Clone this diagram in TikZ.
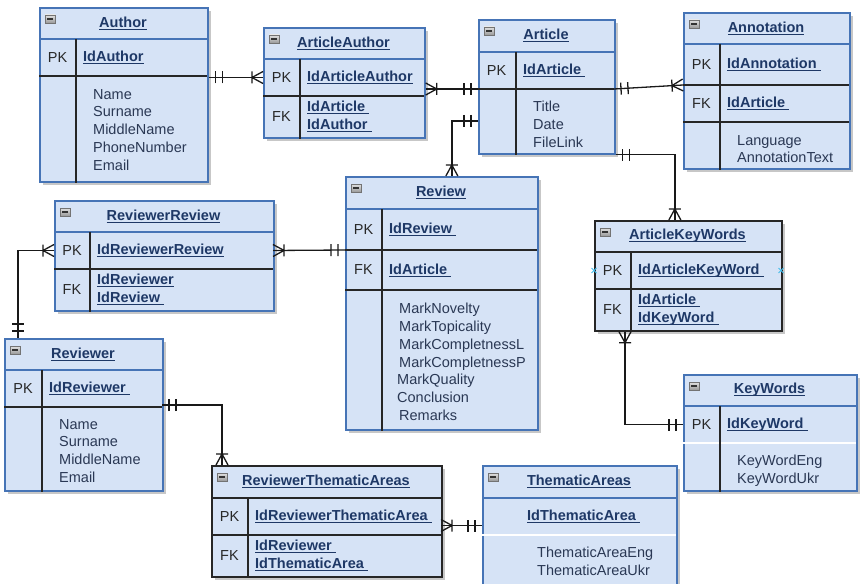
\documentclass[tikz,border=0pt]{standalone}
\usepackage{fontspec}
\setmainfont{Liberation Sans}
\usetikzlibrary{shadows,shapes.misc,decorations.markings}

\definecolor{erfill}{RGB}{214,227,246}
\definecolor{erblue}{RGB}{70,116,182}
\definecolor{erdark}{RGB}{38,38,38}
\definecolor{ernavy}{RGB}{30,56,102}
\definecolor{erattr}{RGB}{42,56,84}
\definecolor{ertext}{RGB}{40,40,40}
\definecolor{erline}{RGB}{25,25,25}
\definecolor{erhandle}{RGB}{70,190,235}

\newcommand{\erfont}{\fontsize{14.5}{17.8}\selectfont}
\newcommand{\ukey}[1]{\setbox0\hbox{#1}\rlap{\rule[-2.3pt]{\wd0}{0.9pt}}\box0}

\begin{document}
\begin{tikzpicture}[x=1pt,y=-1pt,font=\erfont,
    tbl/.style={draw=erblue,fill=erfill,line width=1.7pt,anchor=north west,inner sep=0pt,
                drop shadow={shadow xshift=3pt,shadow yshift=-3pt,fill=black!40,opacity=.55}},
    tbldark/.style={tbl,draw=erdark},
    row/.style={anchor=north west,inner sep=0pt,outer sep=0pt},
    sep/.style={draw=erdark,line width=1.4pt},
    sepblue/.style={draw=erblue,line width=1.4pt},
    sepwhite/.style={draw=white,line width=1.4pt},
    minus/.style={draw=black!55,top color=black!12,bottom color=black!40,minimum width=10pt,
                  minimum height=8pt,inner sep=0pt,line width=.6pt,
                  path picture={\draw[black!80,line width=1.2pt]
                    ([xshift=2.2pt]path picture bounding box.west) --
                    ([xshift=-2.2pt]path picture bounding box.east);}},
    hd/.style={font=\erfont\bfseries,text=ernavy,inner sep=0pt},
    lbl/.style={text=ertext,inner sep=0pt},
    key/.style={font=\erfont\bfseries,text=ernavy,anchor=west,align=left,inner sep=0pt},
    attr/.style={text=erattr,anchor=north west,align=left,inner sep=0pt},
    handle/.style={cross out,draw=erhandle,line width=1pt,minimum size=4pt,inner sep=0pt},
    rel/.style={draw=erline,line width=1.3pt},
    ends/.style={draw=erline,line width=1.3pt,line join=round},
    one at start/.style={postaction={decorate,decoration={markings,mark=at position 0 with
        {\draw[ends] (7pt,-6pt) -- (7pt,6pt) (14pt,-6pt) -- (14pt,6pt);}}}},
    one at end/.style={postaction={decorate,decoration={markings,mark=at position 1 with
        {\draw[ends] (-7pt,-6pt) -- (-7pt,6pt) (-14pt,-6pt) -- (-14pt,6pt);}}}},
    many at start/.style={postaction={decorate,decoration={markings,mark=at position 0 with
        {\draw[ends] (0pt,-6pt) -- (11pt,0pt) -- (0pt,6pt) (11pt,-6pt) -- (11pt,6pt);}}}},
    many at end/.style={postaction={decorate,decoration={markings,mark=at position 1 with
        {\draw[ends] (0pt,-6pt) -- (-11pt,0pt) -- (0pt,6pt) (-11pt,-6pt) -- (-11pt,6pt);}}}}]

  \clip (0,0) rectangle (861,583);

  % Author
  \node[tbl,minimum width=168pt,minimum height=174pt] (author) at (39,7) {};
  \node[row,minimum width=168pt,minimum height=32pt] (author-t) at (author.north west) {};
  \node[row,minimum width=168pt,minimum height=37pt] (author-pk) at (author-t.south west) {};
  \node[row,minimum width=168pt,minimum height=105pt] (author-at) at (author-pk.south west) {};
  \draw[sepblue] (author-t.south west) -- (author-t.south east);
  \draw[sep] (author-pk.south west) -- (author-pk.south east);
  \draw[sep] ([xshift=37pt]author-t.south west) -- ([xshift=37pt]author.south west);
  \node[minus] (author-m) at ([shift={(11pt,-12pt)}]author.north west) {};
  \node[hd] (author-h) at (author-t) {\ukey{Author}};
  \node[lbl] (author-pkl) at ([xshift=18.5pt]author-pk.west) {PK};
  \node[key] (author-pkk) at ([xshift=44pt]author-pk.west) {\ukey{IdAuthor}};
  \node[attr] (author-atl) at ([shift={(54pt,-13pt)}]author-at.north west)
    {Name\\Surname\\MiddleName\\PhoneNumber\\Email};

  % ArticleAuthor
  \node[tbl,minimum width=161pt,minimum height=110pt] (aa) at (263,27) {};
  \node[row,minimum width=161pt,minimum height=32pt] (aa-t) at (aa.north west) {};
  \node[row,minimum width=161pt,minimum height=37pt] (aa-pk) at (aa-t.south west) {};
  \node[row,minimum width=161pt,minimum height=41pt] (aa-fk) at (aa-pk.south west) {};
  \draw[sepblue] (aa-t.south west) -- (aa-t.south east);
  \draw[sep] (aa-pk.south west) -- (aa-pk.south east);
  \draw[sep] ([xshift=37pt]aa-t.south west) -- ([xshift=37pt]aa.south west);
  \node[minus] (aa-m) at ([shift={(11pt,-12pt)}]aa.north west) {};
  \node[hd] (aa-h) at (aa-t) {\ukey{ArticleAuthor}};
  \node[lbl] (aa-pkl) at ([xshift=18.5pt]aa-pk.west) {PK};
  \node[key] (aa-pkk) at ([xshift=44pt]aa-pk.west) {\ukey{IdArticleAuthor}};
  \node[lbl] (aa-fkl) at ([xshift=18.5pt]aa-fk.west) {FK};
  \node[key] (aa-fkk) at ([xshift=44pt]aa-fk.west) {\ukey{IdArticle\ }\\\ukey{IdAuthor\ }};

  % Article
  \node[tbl,minimum width=136pt,minimum height=134pt] (article) at (478,19) {};
  \node[row,minimum width=136pt,minimum height=33pt] (article-t) at (article.north west) {};
  \node[row,minimum width=136pt,minimum height=37pt] (article-pk) at (article-t.south west) {};
  \node[row,minimum width=136pt,minimum height=64pt] (article-at) at (article-pk.south west) {};
  \draw[sepblue] (article-t.south west) -- (article-t.south east);
  \draw[sep] (article-pk.south west) -- (article-pk.south east);
  \draw[sep] ([xshift=38pt]article-t.south west) -- ([xshift=38pt]article.south west);
  \node[minus] (article-m) at ([shift={(11pt,-12pt)}]article.north west) {};
  \node[hd] (article-h) at (article-t) {\ukey{Article}};
  \node[lbl] (article-pkl) at ([xshift=18.5pt]article-pk.west) {PK};
  \node[key] (article-pkk) at ([xshift=45pt]article-pk.west) {\ukey{IdArticle\ }};
  \node[attr] (article-atl) at ([shift={(55pt,-12pt)}]article-at.north west)
    {Title\\Date\\FileLink};

  % Annotation
  \node[tbl,minimum width=166pt,minimum height=156pt] (annot) at (683,12) {};
  \node[row,minimum width=166pt,minimum height=32pt] (annot-t) at (annot.north west) {};
  \node[row,minimum width=166pt,minimum height=41pt] (annot-pk) at (annot-t.south west) {};
  \node[row,minimum width=166pt,minimum height=37pt] (annot-fk) at (annot-pk.south west) {};
  \node[row,minimum width=166pt,minimum height=46pt] (annot-at) at (annot-fk.south west) {};
  \draw[sepblue] (annot-t.south west) -- (annot-t.south east);
  \draw[sep] (annot-pk.south west) -- (annot-pk.south east);
  \draw[sep] (annot-fk.south west) -- (annot-fk.south east);
  \draw[sep] ([xshift=37pt]annot-t.south west) -- ([xshift=37pt]annot.south west);
  \node[minus] (annot-m) at ([shift={(11pt,-12pt)}]annot.north west) {};
  \node[hd] (annot-h) at (annot-t) {\ukey{Annotation}};
  \node[lbl] (annot-pkl) at ([xshift=18.5pt]annot-pk.west) {PK};
  \node[key] (annot-pkk) at ([xshift=44pt]annot-pk.west) {\ukey{IdAnnotation\ }};
  \node[lbl] (annot-fkl) at ([xshift=18.5pt]annot-fk.west) {FK};
  \node[key] (annot-fkk) at ([xshift=44pt]annot-fk.west) {\ukey{IdArticle\ }};
  \node[attr] (annot-atl) at ([shift={(54pt,-13pt)}]annot-at.north west)
    {Language\\AnnotationText};

  % ReviewerReview
  \node[tbl,minimum width=219pt,minimum height=110pt] (rr) at (54,200) {};
  \node[row,minimum width=219pt,minimum height=32pt] (rr-t) at (rr.north west) {};
  \node[row,minimum width=219pt,minimum height=37pt] (rr-pk) at (rr-t.south west) {};
  \node[row,minimum width=219pt,minimum height=41pt] (rr-fk) at (rr-pk.south west) {};
  \draw[sepblue] (rr-t.south west) -- (rr-t.south east);
  \draw[sep] (rr-pk.south west) -- (rr-pk.south east);
  \draw[sep] ([xshift=36pt]rr-t.south west) -- ([xshift=36pt]rr.south west);
  \node[minus] (rr-m) at ([shift={(11pt,-12pt)}]rr.north west) {};
  \node[hd] (rr-h) at (rr-t) {\ukey{ReviewerReview}};
  \node[lbl] (rr-pkl) at ([xshift=18pt]rr-pk.west) {PK};
  \node[key] (rr-pkk) at ([xshift=43pt]rr-pk.west) {\ukey{IdReviewerReview}};
  \node[lbl] (rr-fkl) at ([xshift=18pt]rr-fk.west) {FK};
  \node[key] (rr-fkk) at ([xshift=43pt]rr-fk.west) {\ukey{IdReviewer}\\\ukey{IdReview\ }};

  % Review
  \node[tbl,minimum width=192pt,minimum height=253pt] (review) at (345,176) {};
  \node[row,minimum width=192pt,minimum height=33pt] (review-t) at (review.north west) {};
  \node[row,minimum width=192pt,minimum height=41pt] (review-pk) at (review-t.south west) {};
  \node[row,minimum width=192pt,minimum height=40pt] (review-fk) at (review-pk.south west) {};
  \node[row,minimum width=192pt,minimum height=139pt] (review-at) at (review-fk.south west) {};
  \draw[sepblue] (review-t.south west) -- (review-t.south east);
  \draw[sep] (review-pk.south west) -- (review-pk.south east);
  \draw[sep] (review-fk.south west) -- (review-fk.south east);
  \draw[sep] ([xshift=37pt]review-t.south west) -- ([xshift=37pt]review.south west);
  \node[minus] (review-m) at ([shift={(11pt,-12pt)}]review.north west) {};
  \node[hd] (review-h) at (review-t) {\ukey{Review}};
  \node[lbl] (review-pkl) at ([xshift=18.5pt]review-pk.west) {PK};
  \node[key] (review-pkk) at ([xshift=44pt]review-pk.west) {\ukey{IdReview\ }};
  \node[lbl] (review-fkl) at ([xshift=18.5pt]review-fk.west) {FK};
  \node[key] (review-fkk) at ([xshift=44pt]review-fk.west) {\ukey{IdArticle\ }};
  \node[attr] (review-atl) at ([shift={(54pt,-13pt)}]review-at.north west)
    {MarkNovelty\\MarkTopicality\\MarkCompletnessL\\MarkCompletnessP\\
     \kern-2pt MarkQuality\\\kern-2pt Conclusion\\Remarks};

  % ArticleKeyWords
  \node[tbldark,minimum width=187pt,minimum height=110pt] (akw) at (594,220) {};
  \node[row,minimum width=187pt,minimum height=32pt] (akw-t) at (akw.north west) {};
  \node[row,minimum width=187pt,minimum height=37pt] (akw-pk) at (akw-t.south west) {};
  \node[row,minimum width=187pt,minimum height=41pt] (akw-fk) at (akw-pk.south west) {};
  \draw[sep] (akw-t.south west) -- (akw-t.south east);
  \draw[sep] (akw-pk.south west) -- (akw-pk.south east);
  \draw[sep] ([xshift=37pt]akw-t.south west) -- ([xshift=37pt]akw.south west);
  \node[minus] (akw-m) at ([shift={(11pt,-12pt)}]akw.north west) {};
  \node[hd] (akw-h) at (akw-t) {\ukey{ArticleKeyWords}};
  \node[lbl] (akw-pkl) at ([xshift=18.5pt]akw-pk.west) {PK};
  \node[key] (akw-pkk) at ([xshift=44pt]akw-pk.west) {\ukey{IdArticleKeyWord\ }};
  \node[lbl] (akw-fkl) at ([xshift=18.5pt]akw-fk.west) {FK};
  \node[key] (akw-fkk) at ([xshift=44pt]akw-fk.west) {\ukey{IdArticle\ }\\\ukey{IdKeyWord\ }};
  \node[handle] (akw-hl) at (akw-pk.west) {};
  \node[handle] (akw-hr) at (akw-pk.east) {};

  % Reviewer
  \node[tbl,minimum width=158pt,minimum height=152pt] (reviewer) at (4,338) {};
  \node[row,minimum width=158pt,minimum height=32pt] (reviewer-t) at (reviewer.north west) {};
  \node[row,minimum width=158pt,minimum height=37pt] (reviewer-pk) at (reviewer-t.south west) {};
  \node[row,minimum width=158pt,minimum height=83pt] (reviewer-at) at (reviewer-pk.south west) {};
  \draw[sepblue] (reviewer-t.south west) -- (reviewer-t.south east);
  \draw[sep] (reviewer-pk.south west) -- (reviewer-pk.south east);
  \draw[sep] ([xshift=38pt]reviewer-t.south west) -- ([xshift=38pt]reviewer.south west);
  \node[minus] (reviewer-m) at ([shift={(11pt,-12pt)}]reviewer.north west) {};
  \node[hd] (reviewer-h) at (reviewer-t) {\ukey{Reviewer}};
  \node[lbl] (reviewer-pkl) at ([xshift=19pt]reviewer-pk.west) {PK};
  \node[key] (reviewer-pkk) at ([xshift=45pt]reviewer-pk.west) {\ukey{IdReviewer\ }};
  \node[attr] (reviewer-atl) at ([shift={(55pt,-12pt)}]reviewer-at.north west)
    {Name\\Surname\\MiddleName\\Email};

  % KeyWords
  \node[tbl,minimum width=173pt,minimum height=116pt] (kw) at (683,374) {};
  \node[row,minimum width=173pt,minimum height=32pt] (kw-t) at (kw.north west) {};
  \node[row,minimum width=173pt,minimum height=37pt] (kw-pk) at (kw-t.south west) {};
  \node[row,minimum width=173pt,minimum height=47pt] (kw-at) at (kw-pk.south west) {};
  \draw[sepblue] (kw-t.south west) -- (kw-t.south east);
  \draw[sepwhite] (kw-pk.south west) -- (kw-pk.south east);
  \draw[sep] ([xshift=37pt]kw-t.south west) -- ([xshift=37pt]kw.south west);
  \node[minus] (kw-m) at ([shift={(11pt,-12pt)}]kw.north west) {};
  \node[hd] (kw-h) at (kw-t) {\ukey{KeyWords}};
  \node[lbl] (kw-pkl) at ([xshift=18.5pt]kw-pk.west) {PK};
  \node[key] (kw-pkk) at ([xshift=44pt]kw-pk.west) {\ukey{IdKeyWord\ }};
  \node[attr] (kw-atl) at ([shift={(54pt,-12pt)}]kw-at.north west)
    {KeyWordEng\\KeyWordUkr};

  % ReviewerThematicAreas
  \node[tbldark,minimum width=230pt,minimum height=111pt] (rta) at (211,465) {};
  \node[row,minimum width=230pt,minimum height=33pt] (rta-t) at (rta.north west) {};
  \node[row,minimum width=230pt,minimum height=37pt] (rta-pk) at (rta-t.south west) {};
  \node[row,minimum width=230pt,minimum height=41pt] (rta-fk) at (rta-pk.south west) {};
  \draw[sep] (rta-t.south west) -- (rta-t.south east);
  \draw[sep] (rta-pk.south west) -- (rta-pk.south east);
  \draw[sep] ([xshift=37pt]rta-t.south west) -- ([xshift=37pt]rta.south west);
  \node[minus] (rta-m) at ([shift={(11pt,-12pt)}]rta.north west) {};
  \node[hd] (rta-h) at (rta-t) {\ukey{ReviewerThematicAreas}};
  \node[lbl] (rta-pkl) at ([xshift=18.5pt]rta-pk.west) {PK};
  \node[key] (rta-pkk) at ([xshift=44pt]rta-pk.west) {\ukey{IdReviewerThematicArea\ }};
  \node[lbl] (rta-fkl) at ([xshift=18.5pt]rta-fk.west) {FK};
  \node[key] (rta-fkk) at ([xshift=44pt]rta-fk.west) {\ukey{IdReviewer\ }\\\ukey{IdThematicArea\ }};

  % ThematicAreas
  \node[tbl,minimum width=194pt,minimum height=130pt] (ta) at (482,465) {};
  \node[row,minimum width=194pt,minimum height=33pt] (ta-t) at (ta.north west) {};
  \node[row,minimum width=194pt,minimum height=37pt] (ta-pk) at (ta-t.south west) {};
  \node[row,minimum width=194pt,minimum height=60pt] (ta-at) at (ta-pk.south west) {};
  \draw[sepblue] (ta-t.south west) -- (ta-t.south east);
  \draw[sepwhite] (ta-pk.south west) -- (ta-pk.south east);
  \node[minus] (ta-m) at ([shift={(11pt,-12pt)}]ta.north west) {};
  \node[hd] (ta-h) at (ta-t) {\ukey{ThematicAreas}};
  \node[key] (ta-pkk) at ([xshift=45pt]ta-pk.west) {\ukey{IdThematicArea\ }};
  \node[attr] (ta-atl) at ([shift={(55pt,-12pt)}]ta-at.north west)
    {ThematicAreaEng\\ThematicAreaUkr};

  % relationships
  \draw[rel,one at start,many at end] (author.east |- aa-pk.west) -- (aa-pk.west);
  \draw[rel,many at start,one at end] (aa.east |- article-pk.south) -- (article-pk.south west);
  \draw[rel,one at start,many at end] (article-at.west) -| ([xshift=10pt]review.north);
  \draw[rel,one at start,many at end] (article-pk.south east) -- (annot-pk.south west);
  \draw[rel,one at start,many at end] (article.south east) -| ([xshift=-13.5pt]akw.north);
  \draw[rel,many at start,one at end] (rr-pk.east) -- (review-pk.south west);
  \draw[rel,many at start,one at end] (rr-pk.west) -| ([xshift=14pt]reviewer.north west);
  \draw[rel,one at start,many at end] ([yshift=2pt]reviewer-pk.south east) -| ([xshift=11pt]rta.north west);
  \draw[rel,many at start,one at end] ([yshift=-9pt]rta-pk.east) -- ([yshift=-9pt]ta-pk.west);
  \draw[rel,many at start,one at end] ([xshift=31pt]akw.south west) |- (kw-pk.west);

\end{tikzpicture}
\end{document}
